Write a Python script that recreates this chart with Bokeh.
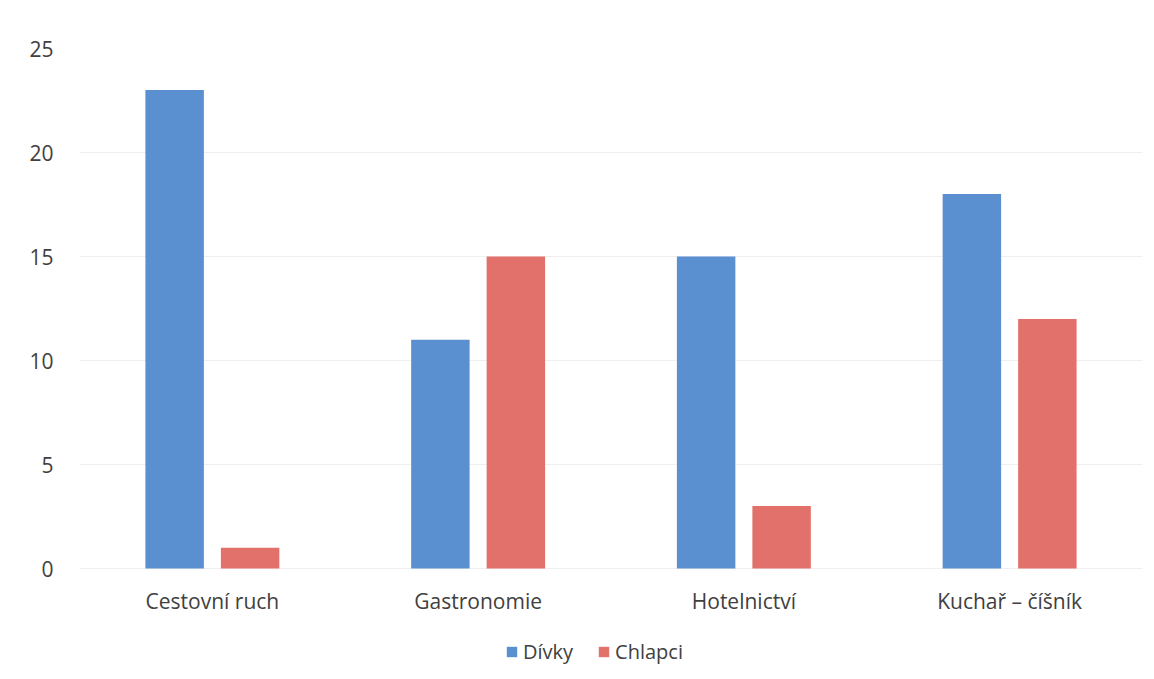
from bokeh.plotting import figure
from bokeh.models import ColumnDataSource, FactorRange, Range1d, Legend, LegendItem, FixedTicker
from bokeh.core.properties import value
from bokeh.transform import dodge
from bokeh.embed import file_html
from bokeh.resources import INLINE

categories = ["Cestovní ruch", "Gastronomie", "Hotelnictví", "Kuchař – číšník"]
divky = [23, 11, 15, 18]
chlapci = [1, 15, 3, 12]
y_ticks = [0, 5, 10, 15, 20, 25]

BLUE = "#5A90D0"
RED = "#E2716B"
TEXT = "#404040"
FONT = "Open Sans"

# the frame reaches the page bottom so the category names and the legend
# live inside it; 25 units take the upper 520 px
PLOT_H = 520
FRAME_H = 631
y_max = 25
y_min = y_max - FRAME_H * y_max / PLOT_H
label_y = -32 * y_max / PLOT_H

source = ColumnDataSource(data=dict(cat=categories, divky=divky, chlapci=chlapci))

p = figure(
    frame_width=1063, frame_height=FRAME_H,
    x_range=FactorRange(*categories, range_padding=0),
    y_range=Range1d(y_min, y_max),
    output_backend="svg", toolbar_location=None,
    min_border_left=79, min_border_right=12, min_border_top=48, min_border_bottom=0,
)

b1 = p.vbar(x=dodge("cat", -0.142, range=p.x_range), top="divky", width=0.22,
            source=source, color=BLUE, line_color=None)
b2 = p.vbar(x=dodge("cat", 0.142, range=p.x_range), top="chlapci", width=0.22,
            source=source, color=RED, line_color=None)

p.text(x=categories, y=[label_y] * len(categories), text=categories,
       text_align="center", text_baseline="middle",
       text_font=value(FONT), text_font_size="21px", text_color=TEXT)

p.outline_line_color = None
p.xaxis.visible = False
p.xgrid.grid_line_color = None
p.ygrid.grid_line_color = "#efefef"
p.ygrid.grid_line_width = 1

p.yaxis.ticker = FixedTicker(ticks=y_ticks)
p.yaxis.axis_line_color = None
p.yaxis.major_tick_line_color = None
p.yaxis.minor_tick_line_color = None
p.yaxis.major_label_text_font = FONT
p.yaxis.major_label_text_font_size = "21px"
p.yaxis.major_label_text_color = TEXT
p.yaxis.major_label_standoff = 20

legend = Legend(
    items=[LegendItem(label="Dívky", renderers=[b1]),
           LegendItem(label="Chlapci", renderers=[b2])],
    orientation="horizontal", location=(426, 14),
    label_text_font=FONT, label_text_font_size="20px", label_text_color=TEXT,
    glyph_width=13, glyph_height=13, spacing=24, label_standoff=5,
    border_line_color=None, background_fill_alpha=0, margin=0, padding=4,
)
p.add_layout(legend)

open("out.html", "w").write(file_html(p, INLINE))
